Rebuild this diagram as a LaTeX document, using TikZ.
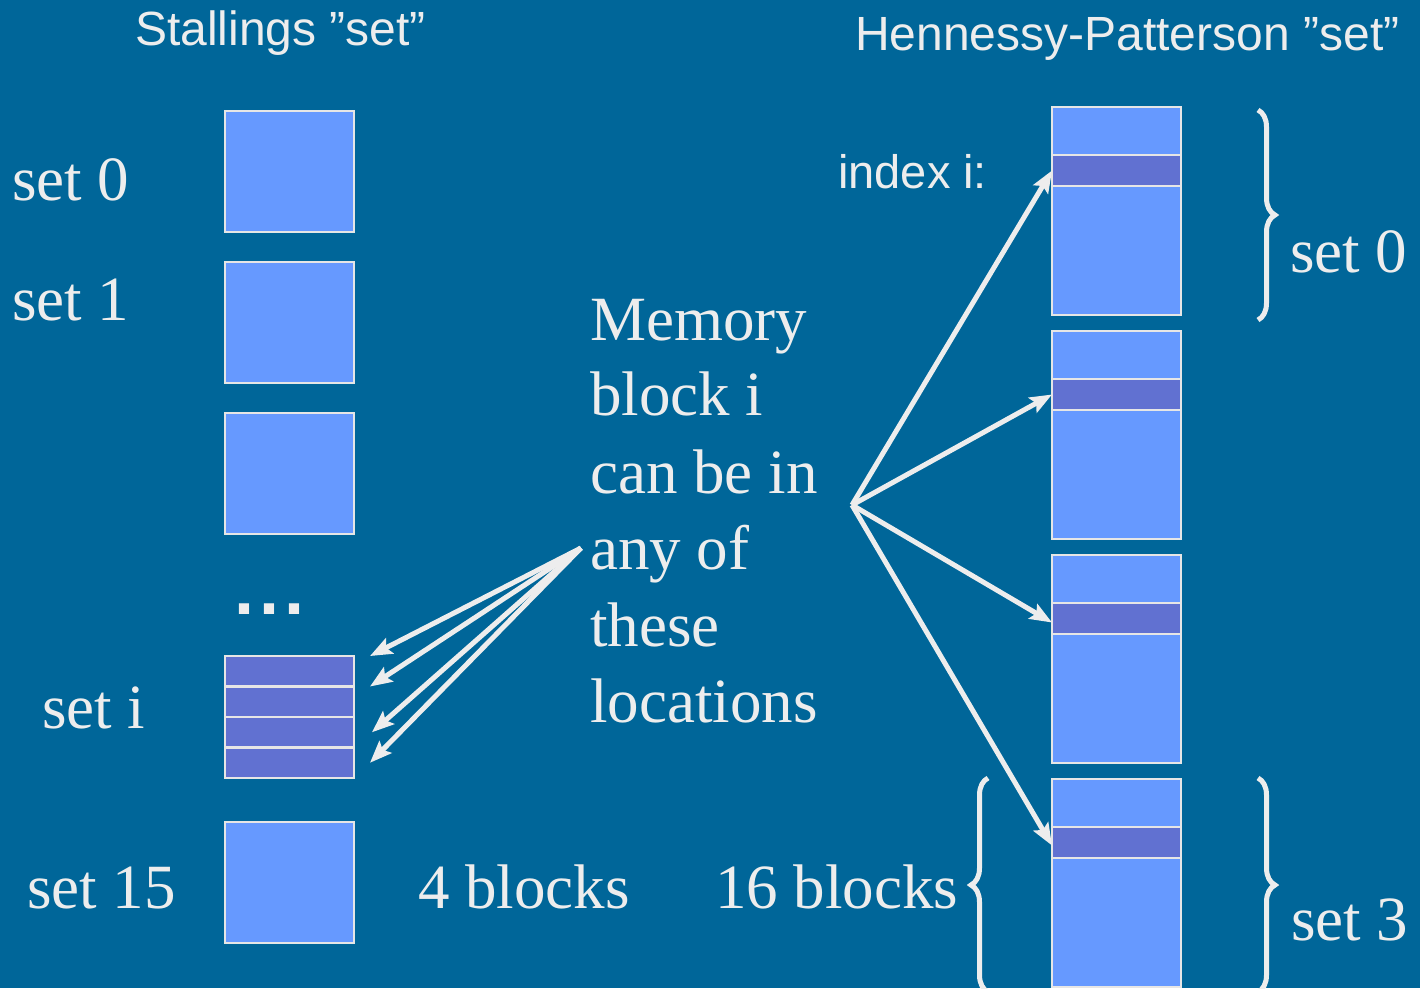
\documentclass[tikz,border=0pt]{standalone}
\usepackage{fontspec}
\setmainfont{Liberation Serif}
\newfontfamily\hv{Liberation Sans}
\usetikzlibrary{arrows.meta,decorations.pathreplacing}
\definecolor{bg}{HTML}{006699}
\definecolor{lite}{HTML}{6699FF}
\definecolor{dark}{HTML}{6171D1}
\definecolor{fg}{HTML}{EDEDED}
\definecolor{edge}{HTML}{E6E6E6}
\tikzset{
  blk/.style={draw=edge,line width=2.5pt,fill=lite,anchor=north west,inner sep=0pt,outer sep=0pt,minimum width=129pt},
  sq/.style={blk,minimum height=121pt},
  tall/.style={blk,minimum height=208pt},
  stripe/.style={blk,fill=dark,minimum height=31pt},
  serif/.style={text=fg,anchor=base west,inner sep=0pt,font=\fontsize{63}{70}\selectfont},
  sans/.style={text=fg,anchor=base west,inner sep=0pt,font=\hv\fontsize{48}{56}\selectfont},
  arr/.style={draw=fg,line width=5pt,-{Stealth[length=22pt,width=17pt,inset=4pt]}},
  brc/.style={draw=fg,line width=5pt,decorate,decoration={brace,amplitude=17pt}}
}
\begin{document}
\begin{tikzpicture}[x=1pt,y=-1pt]
\fill[bg] (0,0) rectangle (1420,988);
\useasboundingbox (0,0) rectangle (1420,988);
% titles
\node[sans] (t1) at (135,45) {Stallings ”set”};
\node[sans] (t2) at (855,50) {Hennessy-Patterson ”set”};
% left column
\node[sq] (b0) at (225,111) {};
\node[sq] (b1) at (225,262) {};
\node[sq] (b2) at (225,413) {};
\node[sans,font=\hv\bfseries\fontsize{72}{80}\selectfont] (dots) at (234,614) {.\hspace{5pt}.\hspace{5pt}.};
\node[stripe,minimum height=30.5pt] (s1) at (225,656) {};
\node[stripe,minimum height=30.5pt] (s2) at (225,686.5) {};
\node[stripe,minimum height=30.5pt] (s3) at (225,717) {};
\node[stripe,minimum height=30.5pt] (s4) at (225,747.5) {};
\node[sq] (b15) at (225,822) {};
\node[serif] (l0) at (12,200) {set 0};
\node[serif] (l1) at (12,320) {set 1};
\node[serif] (li) at (42,728) {set i};
\node[serif] (l15) at (27,908) {set 15};
\node[serif] (l4) at (418,908) {4 blocks};
% middle text
\node[serif] (m1) at (590,340) {Memory};
\node[serif] (m2) at (590,415) {block i};
\node[serif] (m3) at (590,493) {can be in};
\node[serif] (m4) at (590,569) {any of};
\node[serif] (m5) at (590,646) {these};
\node[serif] (m6) at (590,722) {locations};
\node[serif] (l16) at (715,908) {16 blocks};
\node[sans,font=\hv\fontsize{47}{54}\selectfont] (idx) at (838,188) {index i:};
% right column
\node[tall] (rA) at (1052,107) {};
\node[stripe] (pA) at (1052,155) {};
\node[tall] (rB) at (1052,331) {};
\node[stripe] (pB) at (1052,379) {};
\node[tall] (rC) at (1052,555) {};
\node[stripe] (pC) at (1052,603) {};
\node[tall] (rD) at (1052,779) {};
\node[stripe] (pD) at (1052,827) {};
\node[serif] (r0) at (1290,272) {set 0};
\node[serif] (r3) at (1291,940) {set 3};
% braces
\coordinate (ba1) at (1258,110);
\coordinate (ba2) at (1258,320);
\coordinate (bd1) at (1258,778);
\coordinate (bd2) at (1258,992);
\coordinate (bl1) at (988,992);
\coordinate (bl2) at (988,778);
\draw[brc] (ba1) -- (ba2);
\draw[brc] (bd1) -- (bd2);
\draw[brc] (bl1) -- (bl2);
% arrows
\coordinate (srcL) at (581,548);
\coordinate (srcR) at (852,505);
\draw[arr] (srcL) -- ([xshift=16pt]s1.north east);
\draw[arr] (srcL) -- ([xshift=16pt]s2.north east);
\draw[arr] (srcL) -- ([xshift=18pt]s3.east);
\draw[arr] (srcL) -- ([xshift=16pt]s4.east);
\draw[arr] (srcR) -- (pA.west);
\draw[arr] (srcR) -- (pB.west);
\draw[arr] (srcR) -- ([yshift=-4pt]pC.west);
\draw[arr] (srcR) -- ([yshift=-3pt]pD.west);
\end{tikzpicture}
\end{document}
